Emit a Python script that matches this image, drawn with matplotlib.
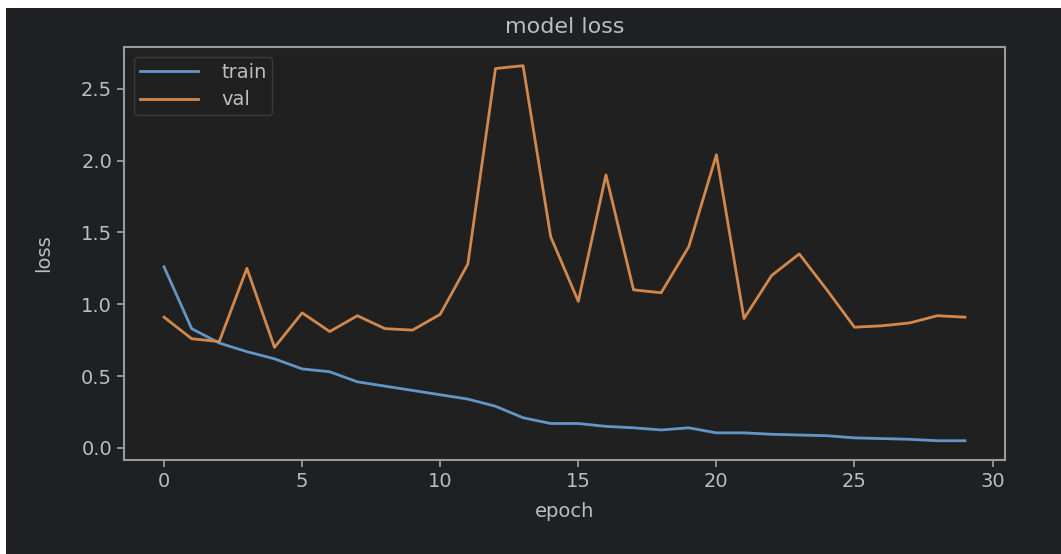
import matplotlib
matplotlib.use("Agg")
import matplotlib.pyplot as plt
from matplotlib.patches import Rectangle

epochs = list(range(30))
train_loss = [1.26, 0.83, 0.73, 0.67, 0.62, 0.55, 0.53, 0.46, 0.43, 0.40,
              0.37, 0.34, 0.29, 0.21, 0.17, 0.17, 0.15, 0.14, 0.125, 0.14,
              0.105, 0.105, 0.095, 0.09, 0.085, 0.07, 0.065, 0.06, 0.05, 0.05]
val_loss = [0.91, 0.76, 0.74, 1.25, 0.70, 0.94, 0.81, 0.92, 0.83, 0.82,
            0.93, 1.28, 2.64, 2.66, 1.47, 1.02, 1.90, 1.10, 1.08, 1.40,
            2.04, 0.90, 1.20, 1.35, 1.10, 0.84, 0.85, 0.87, 0.92, 0.91]
series_labels = ["train", "val"]
x_ticks = [0, 5, 10, 15, 20, 25, 30]
y_ticks = [0.0, 0.5, 1.0, 1.5, 2.0, 2.5]

W, H = 1061, 554
fig = plt.figure(figsize=(W / 100, H / 100), dpi=100)
fig.patch.set_facecolor("white")
fig.patches.append(Rectangle((6 / W, 0), 1 - 6 / W, 1 - 8 / H,
                             transform=fig.transFigure, facecolor="#1e2023",
                             edgecolor="none", zorder=-10))

ax = fig.add_axes([124 / W, 1 - 460 / H, (1005 - 124) / W, (460 - 47) / H])
ax.set_facecolor("#202020")

txt = "#bdbdbd"
spine_c = "#9a9a9a"

ax.plot(epochs, train_loss, color="#6396c6", lw=2, label=series_labels[0])
ax.plot(epochs, val_loss, color="#d2884c", lw=2, label=series_labels[1])

ax.set_xticks(x_ticks)
ax.set_yticks(y_ticks)
ax.set_yticklabels([f"{v:.1f}" for v in y_ticks])
ax.set_xlim(-1.45, 30.45)
ax.set_ylim(-0.084, 2.79)

for s in ax.spines.values():
    s.set_color(spine_c)
    s.set_linewidth(1.5)
ax.tick_params(colors=spine_c, labelcolor=txt, labelsize=14, length=5, width=1.3)

ax.set_title("model loss", color=txt, fontsize=16, pad=10)
ax.set_xlabel("epoch", color=txt, fontsize=14, labelpad=8)
ax.set_ylabel("loss", color=txt, fontsize=14, labelpad=20)

leg = ax.legend(loc="upper left", fontsize=14, facecolor="#202020",
                edgecolor="#3a3a3a", framealpha=1, handlelength=3.0,
                handletextpad=1.2, borderaxespad=0.5, borderpad=0.3,
                labelspacing=0.45)
for t in leg.get_texts():
    t.set_color(txt)

fig.savefig("out.png", dpi=100, facecolor=fig.get_facecolor())
